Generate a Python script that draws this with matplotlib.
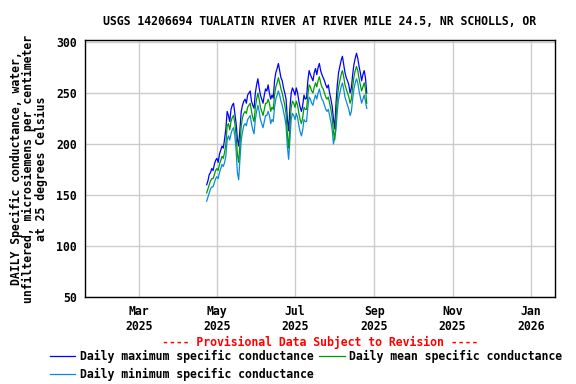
import numpy as np
import pandas as pd
import matplotlib
matplotlib.use("Agg")
import matplotlib.pyplot as plt
import matplotlib.dates as mdates

# daily values, Apr 23 2025 onward
start_day = "2025-04-23"

daily_max = [
    160, 164, 170, 172, 176, 174, 180, 184, 186, 182,
    190, 194, 198, 196, 205, 215, 232, 228, 222, 234,
    238, 240, 230, 220, 205, 198, 215, 232, 238, 242,
    244, 240, 248, 250, 252, 242, 238, 235, 250, 258,
    264, 255, 248, 244, 240, 248, 254, 252, 258, 250,
    244, 248, 245, 262, 270, 274, 279, 272, 265, 262,
    255, 250, 244, 225, 213, 235, 250, 255, 252, 248,
    255, 250, 242, 236, 232, 238, 248, 244, 245, 262,
    272, 268, 265, 262, 270, 274, 268, 275, 279, 272,
    268, 265, 262, 258, 255, 258, 250, 244, 237, 225,
    215, 240, 258, 270, 276, 282, 286, 278, 270, 265,
    262, 258, 250, 255, 268, 278, 284, 289, 284, 276,
    270, 262, 268, 272, 265, 250,
]

daily_mean = [
    152, 156, 160, 164, 166, 166, 170, 174, 176, 174,
    180, 184, 188, 186, 192, 200, 218, 220, 214, 222,
    226, 228, 220, 208, 190, 182, 200, 218, 226, 230,
    232, 230, 236, 238, 240, 232, 226, 222, 236, 244,
    250, 244, 236, 232, 228, 234, 240, 240, 244, 240,
    232, 236, 234, 248, 256, 260, 265, 260, 254, 250,
    244, 238, 230, 210, 196, 218, 236, 242, 240, 236,
    242, 238, 230, 224, 220, 226, 236, 234, 234, 248,
    258, 256, 252, 250, 256, 260, 256, 262, 266, 260,
    256, 254, 250, 246, 244, 246, 240, 234, 226, 212,
    204, 226, 244, 256, 262, 268, 272, 266, 258, 254,
    250, 246, 240, 244, 256, 266, 272, 276, 272, 264,
    258, 252, 256, 260, 254, 240,
]

daily_min = [
    144, 148, 152, 156, 158, 158, 162, 166, 168, 166,
    172, 176, 180, 178, 182, 188, 204, 208, 204, 210,
    214, 216, 208, 194, 172, 165, 185, 204, 212, 218,
    220, 218, 224, 226, 228, 220, 214, 210, 224, 232,
    238, 232, 224, 220, 216, 222, 228, 228, 232, 228,
    220, 224, 222, 236, 244, 248, 252, 248, 242, 238,
    232, 226, 218, 198, 185, 204, 224, 230, 228, 224,
    230, 226, 218, 212, 208, 214, 224, 222, 222, 236,
    246, 244, 240, 238, 244, 248, 244, 250, 254, 248,
    244, 242, 238, 234, 232, 234, 228, 222, 214, 200,
    207, 214, 232, 244, 250, 256, 260, 254, 246, 242,
    238, 234, 228, 232, 244, 254, 260, 264, 260, 252,
    246, 240, 244, 248, 242, 235,
]

y_ticks = [50, 100, 150, 200, 250, 300]
x_ticks = ["2025-03-01", "2025-05-01", "2025-07-01", "2025-09-01", "2025-11-01", "2026-01-01"]

dates = pd.date_range(start_day, periods=len(daily_max), freq="D")

mono = "DejaVu Sans Mono"
fs = 8.3

fig = plt.figure(figsize=(5.76, 3.84), dpi=100)
ax = fig.add_axes([85 / 576, 1 - 297 / 384, 470 / 576, 257 / 384])

ax.plot(dates, daily_max, color="#0000ff", lw=0.9, label="Daily maximum specific conductance")
ax.plot(dates, daily_min, color="#0a8ad8", lw=0.9, label="Daily minimum specific conductance")
ax.plot(dates, daily_mean, color="#009a00", lw=0.9, label="Daily mean specific conductance")

ax.set_xlim(pd.Timestamp("2025-01-18"), pd.Timestamp("2026-01-20"))
ax.set_ylim(50, 302)
ax.set_yticks(y_ticks)
ax.set_xticks(pd.to_datetime(x_ticks))
ax.xaxis.set_major_formatter(mdates.DateFormatter("%b\n%Y"))
ax.grid(True, color="#cccccc", lw=1)
ax.set_axisbelow(True)
ax.tick_params(length=0, pad=6)
for lab in ax.get_xticklabels() + ax.get_yticklabels():
    lab.set_fontfamily(mono)
    lab.set_fontweight("bold")
    lab.set_fontsize(fs)
for sp in ax.spines.values():
    sp.set_linewidth(1)

ax.set_title("USGS 14206694 TUALATIN RIVER AT RIVER MILE 24.5, NR SCHOLLS, OR",
             fontfamily=mono, fontweight="bold", fontsize=fs, pad=11)
ax.set_ylabel("DAILY Specific conductance, water,\nunfiltered, microsiemens per centimeter\nat 25 degrees Celsius",
              fontfamily=mono, fontweight="bold", fontsize=fs, labelpad=6, linespacing=0.95)

fig.text(320 / 576, 1 - 342 / 384, "---- Provisional Data Subject to Revision ----",
         color="red", ha="center", va="center", fontfamily=mono, fontweight="bold", fontsize=fs)

fig.legend(loc="upper left", bbox_to_anchor=(50 / 576, 1 - 350 / 384), ncol=2, frameon=False,
           prop={"family": mono, "weight": "bold", "size": fs},
           handlelength=2.2, handletextpad=0.4, columnspacing=0.5, labelspacing=0.45,
           borderpad=0, borderaxespad=0)

fig.savefig("out.png", dpi=100)
